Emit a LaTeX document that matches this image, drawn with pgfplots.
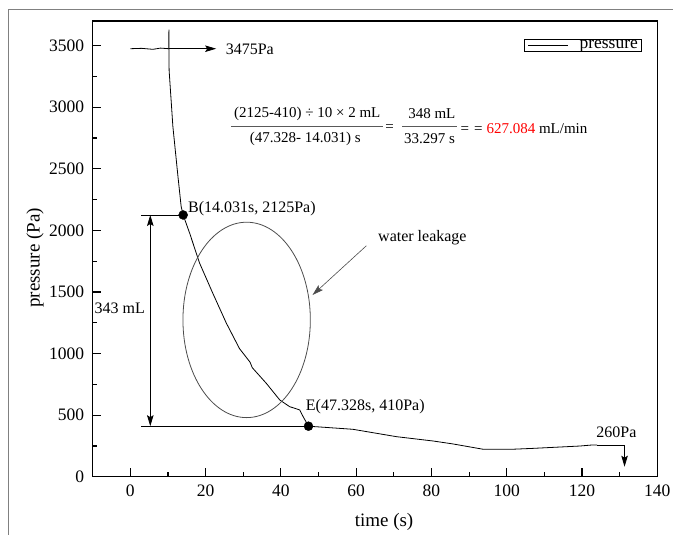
\documentclass[border=0pt]{standalone}
\usepackage{fontspec}
\setmainfont{Liberation Serif}
\usepackage{pgfplots}
\pgfplotsset{compat=1.18}
\usetikzlibrary{arrows.meta}

\newcommand{\fs}{\fontsize{15}{18}\selectfont}
\newcommand{\fa}{\fontsize{16}{19}\selectfont}

\begin{document}
\begin{tikzpicture}[>={Stealth[length=11pt,width=6.5pt,inset=2pt]}]
\path[use as bounding box] (-92.7pt,-58.3pt) rectangle (580.3pt,476.7pt);
\draw[gray,line width=1pt] (-84.2pt,-58.3pt) -- (-84.2pt,466.7pt) -- (580.3pt,466.7pt);
\begin{axis}[
  at={(0pt,0pt)}, anchor=south west,
  scale only axis, width=564.6pt, height=455.7pt,
  xmin=-10, xmax=140, ymin=0, ymax=3700,
  xtick={0,20,...,140}, minor x tick num=1,
  ytick={0,500,...,3500}, minor y tick num=1,
  tick pos=left, tick align=inside,
  major tick length=8.5pt, minor tick length=4.5pt,
  axis line style={line width=1.4pt},
  every tick/.style={line width=1.2pt, black},
  tick label style={font=\fontsize{17.5}{19}\selectfont},
  /pgf/number format/assume math mode=true,
  /pgf/number format/set thousands separator={},
  yticklabel style={xshift=-5pt},
  xticklabel style={yshift=-5pt},
  xlabel={time (s)}, ylabel={pressure (Pa)},
  label style={font=\fontsize{19}{22}\selectfont},
  xlabel style={at={(axis description cs:0.516,-0.1)},anchor=center},
  ylabel style={at={(axis description cs:-0.102,0.48)},anchor=center},
  legend style={at={(0.9734,0.9605)},anchor=north east,
    font=\fontsize{17.5}{19}\selectfont, draw=black, line width=0.8pt,
    inner xsep=3pt, inner ysep=0pt, nodes={inner sep=1pt}},
  legend image code/.code={\draw[#1] (0pt,0pt) -- (40pt,0pt);},
  clip=false,
]
\addplot[black, line width=0.8pt] coordinates {
(0,3475) (3,3478) (6,3470) (8,3480) (10.2,3475) (10.25,3630) (10.3,3300)
(11.3,2844) (12.65,2438) (13.5,2194) (14.031,2125) (15.75,1978) (18.4,1734)
(21.9,1490) (25.5,1247) (29.0,1040) (31.8,930) (32.4,885) (36.1,759)
(39.7,623) (42.3,569) (45,542) (45.9,488) (47.328,410) (59.1,385)
(70.7,325) (80.4,290) (85.7,266) (93.7,223) (101.6,223) (107,230)
(119.4,249) (122.9,258) (124,258)
};
\addlegendentry{\hspace{10pt}pressure}
\addplot[only marks, mark=*, mark size=4.5pt, black, forget plot]
  coordinates {(14.031,2125) (47.328,410)};

% annotations
\draw[line width=0.8pt,->] (axis cs:10.25,3475) -- (axis cs:22.8,3475);
\node[font=\fa,anchor=west,inner sep=0pt] at (axis cs:25.3,3471) {3475Pa};
\draw[line width=0.8pt] (axis cs:2.9,2125) -- (axis cs:14.031,2125);
\draw[line width=0.8pt] (axis cs:2.9,410) -- (axis cs:47.328,410);
\draw[line width=0.8pt,<->] (axis cs:5.3,2125) -- (axis cs:5.3,410);
\node[font=\fa] at (axis cs:-2.8,1370) {343 mL};
\node[font=\fa,anchor=west,inner sep=0pt] at (axis cs:15.3,2180) {B(14.031s, 2125Pa)};
\node[font=\fa,anchor=west,inner sep=0pt] at (axis cs:46.6,569) {E(47.328s, 410Pa)};
\draw[line width=0.8pt,->] (axis cs:124,258) -- (axis cs:131.3,258) -- (axis cs:131.3,81);
\node[font=\fa,anchor=east,inner sep=0pt] at (axis cs:134.5,363) {260Pa};
\draw[gray!60!black,line width=0.8pt] (axis cs:30.9,1273) ellipse [x radius=63.7pt, y radius=97.7pt];
\draw[gray!60!black,line width=0.6pt,->] (axis cs:62.7,1875) -- (axis cs:48.4,1475);
\node[font=\fa,anchor=west,inner sep=0pt] at (axis cs:65.8,1944) {water leakage};

% formula
\draw[gray!70!black,line width=0.8pt] (axis cs:26.8,2844) -- (axis cs:67.1,2844);
\node[font=\fs] at (axis cs:47.0,2945) {(2125-410) ÷ 10 × 2 mL};
\node[font=\fs] at (axis cs:46.5,2744) {(47.328- 14.031) s};
\node[font=\fs] at (axis cs:68.9,2830) {=};
\draw[gray!70!black,line width=0.8pt] (axis cs:72.3,2844) -- (axis cs:86.9,2844);
\node[font=\fs] at (axis cs:80.1,2945) {348 mL};
\node[font=\fs] at (axis cs:79.5,2744) {33.297 s};
\node[font=\fs,anchor=west,inner sep=0pt] at (axis cs:87.7,2830)
  {=\hspace{5pt}=\hspace{4pt}\textcolor{red}{627.084} mL/min};
\end{axis}
\end{tikzpicture}
\end{document}
